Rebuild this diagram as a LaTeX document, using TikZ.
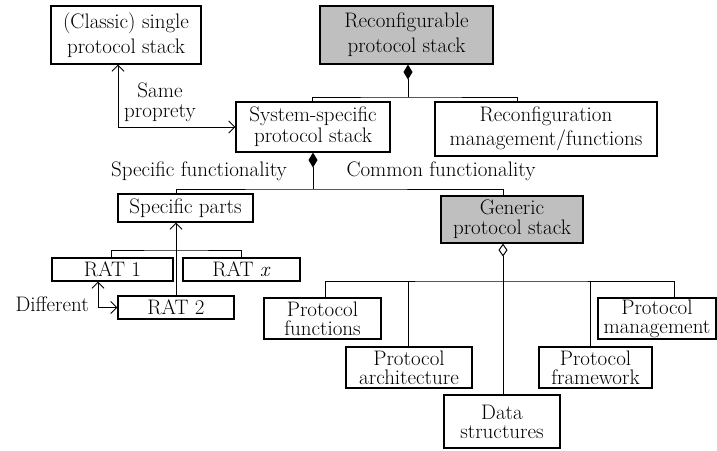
\documentclass[tikz,border=0pt]{standalone}
\usepackage{fontspec}
\setmainfont{Latin Modern Roman}
\usetikzlibrary{arrows.meta}
\begin{document}
\begin{tikzpicture}[x=1pt,y=-1pt,
  box/.style={draw, line width=1.1pt, align=center, inner sep=0pt,
    font=\fontsize{21}{23}\selectfont},
  lead/.style={font=\fontsize{21}{#1}\selectfont},
  shaded/.style={box, fill=black!25},
  conn/.style={line width=1pt},
  lbl/.style={align=center, inner sep=0pt, font=\fontsize{21}{20}\selectfont},
  comp/.style={conn, {Diamond[length=15pt,width=9pt]}-},
  aggr/.style={conn, {Diamond[open,length=13pt,width=9pt]}-},
  barb/.style={conn, {Straight Barb[length=6pt,width=12pt]}-{Straight Barb[length=6pt,width=12pt]}},
  uparrow/.style={conn, -{Straight Barb[length=6pt,width=12pt]}}]
\useasboundingbox (0,0) rectangle (717,450);

% upper level
\node[box, lead=25, minimum width=150pt, minimum height=58pt] (classic) at (126,35) {(Classic) single\\protocol stack};
\node[shaded, lead=25, minimum width=173pt, minimum height=58pt] (reconf) at (406.5,35) {Reconfigurable\\protocol stack};
\node[box, lead=21, minimum width=154pt, minimum height=50pt] (sys) at (313,127) {System-specific\\protocol stack};
\node[box, lead=24, minimum width=222pt, minimum height=54pt] (rmf) at (546,129) {Reconfiguration\\management/functions};

% middle level
\node[box, minimum width=135pt, minimum height=28pt] (spec) at (185.5,208) {Specific parts};
\node[shaded, lead=20, minimum width=142pt, minimum height=47pt] (gen) at (512,219.5) {Generic\\protocol stack};

% radio access technologies
\node[box, minimum width=121pt, minimum height=23pt] (rat1) at (112.5,269.5) {RAT 1};
\node[box, minimum width=117pt, minimum height=23pt] (ratx) at (241.5,269.5) {RAT \textit{x}};
\node[box, minimum width=116pt, minimum height=23pt] (rat2) at (176,307.5) {RAT 2};

% generic parts
\node[box, lead=19, minimum width=117pt, minimum height=41pt] (pf) at (322.5,318.5) {Protocol\\functions};
\node[box, lead=19, minimum width=126pt, minimum height=41pt] (pa) at (409,367.5) {Protocol\\architecture};
\node[box, lead=19, minimum width=116pt, minimum height=53pt] (ds) at (502,421.5) {Data\\structures};
\node[box, lead=19, minimum width=113pt, minimum height=41pt] (pfw) at (595.5,367.5) {Protocol\\framework};
\node[box, lead=19, minimum width=118pt, minimum height=41pt] (pm) at (657,318.5) {Protocol\\management};

% labels
\node[lbl] (same) at (160,102) {Same\\proprety};
\node[lbl] (specf) at (199,171) {Specific functionality};
\node[lbl] (commf) at (441,171) {Common functionality};
\node[lbl, anchor=east] (diff) at (89,304) {Different};

% reconfigurable stack composition
\coordinate (hubR) at (408,97);
\coordinate (tapSys) at (312,0);
\coordinate (tapRmf) at (517,0);
\draw[comp] (reconf.south -| hubR) -- (hubR);
\draw[conn] (sys.north -| tapSys) |- (hubR) -| (rmf.north -| tapRmf);

% same property relation
\coordinate (tapCl) at (118,0);
\draw[barb] (classic.south -| tapCl) |- (sys.west);

% system-specific stack composition
\coordinate (hubS) at (313,189);
\coordinate (tapGen) at (503,0);
\draw[comp] (sys.south -| hubS) -- (hubS);
\draw[conn] (spec.north -| rat2.north) |- (hubS) -| (gen.north -| tapGen);

% RATs
\coordinate (busRat) at (176,250);
\coordinate (tapRa) at (111,0);
\coordinate (tapRb) at (241,0);
\draw[uparrow] (rat2.north) -- (spec.south -| rat2.north);
\draw[conn] (rat1.north -| tapRa) |- (busRat) -| (ratx.north -| tapRb);
\coordinate (tapR1) at (98,0);
\draw[barb] (rat1.south -| tapR1) |- (rat2.west);

% generic stack aggregation
\coordinate (busG) at (503,281);
\coordinate (tapPf) at (325,0);
\coordinate (tapPa) at (408,0);
\coordinate (tapPfw) at (590,0);
\coordinate (tapPm) at (674,0);
\draw[aggr] (gen.south -| tapGen) -- (ds.north -| tapGen);
\draw[conn] (pf.north -| tapPf) |- (busG) -| (pm.north -| tapPm);
\draw[conn] (pa.north -| tapPa) -- (tapPa |- busG);
\draw[conn] (pfw.north -| tapPfw) -- (tapPfw |- busG);
\end{tikzpicture}
\end{document}
